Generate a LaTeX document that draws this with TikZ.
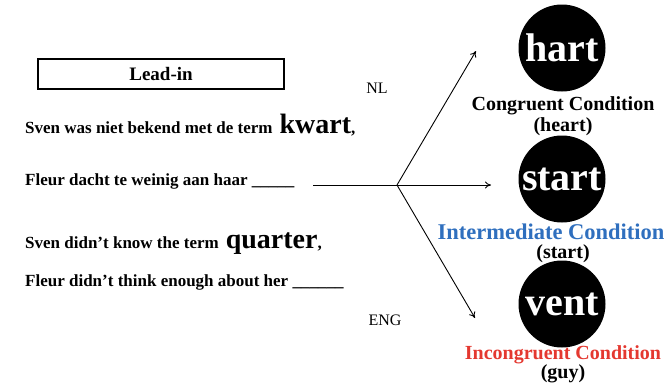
\documentclass[tikz,border=0pt]{standalone}
\usepackage{fontspec}
\setmainfont{Liberation Serif}
\usetikzlibrary{arrows.meta}

\definecolor{condblue}{RGB}{47,111,190}
\definecolor{condred}{RGB}{228,56,48}

\newcommand{\fsz}[1]{\fontsize{#1}{#1}\selectfont}

\begin{document}
\begin{tikzpicture}[x=1pt,y=-1pt,
    sentence/.style={anchor=base west,inner sep=0pt,font=\fsz{17}\bfseries},
    wordball/.style={circle,fill=black,text=white,minimum size=87pt,inner sep=0pt,font=\fsz{40}\bfseries},
    condlabel/.style={inner sep=0pt,font=\fsz{20}\bfseries},
    lang/.style={inner sep=0pt,font=\fsz{16}},
    branch/.style={line width=0.9pt,-{To[length=6pt,width=7pt]}}]

    % Fix the page to the size of the reference
    \useasboundingbox (0,0) rectangle (668,384);

    % Lead-in box
    \node[draw,line width=1.2pt,minimum width=246pt,minimum height=30pt,inner sep=0pt,
          font=\fsz{19}\bfseries] (leadin) at (161,74) {Lead-in};

    % Dutch sentences
    \node[sentence] (nlone) at (25,133) {Sven was niet bekend met de term{\fsz{28} kwart},};
    \node[sentence] (nltwo) at (25,185) {Fleur dacht te weinig aan haar \_\_\_\_\_};

    % English sentences
    \node[sentence] (enone) at (25,248) {Sven didn't know the term{\fsz{28} quarter},};
    \node[sentence] (entwo) at (25,286) {Fleur didn't think enough about her \_\_\_\_\_\_};

    % Language labels
    \node[lang] (nl) at (377,88) {NL};
    \node[lang] (eng) at (385,320) {ENG};

    % Target words
    \node[wordball] (hart) at (562,48) {hart};
    \node[wordball] (start) at (562,179) {start};
    \node[wordball] (vent) at (562,304) {vent};

    % Condition labels
    \node[condlabel] (congr) at (563,106) {Congruent Condition};
    \node[condlabel] (congrw) at (563,127) {(heart)};
    \node[condlabel,text=condblue,font=\fsz{22.5}\bfseries] (inter) at (551,232) {Intermediate Condition};
    \node[condlabel] (interw) at (563,254) {(start)};
    \node[condlabel,text=condred] (incon) at (563,355) {Incongruent Condition};
    \node[condlabel] (inconw) at (563,374) {(guy)};

    % Branching arrows
    \coordinate (stem) at (313,185);
    \coordinate (split) at (397,185);
    \coordinate (uptip) at (476,51);
    \coordinate (midtip) at (491,185);
    \coordinate (downtip) at (475,318);
    \draw[line width=0.9pt] (stem) -- (split);
    \draw[branch] (split) -- (uptip);
    \draw[branch] (split) -- (midtip);
    \draw[branch] (split) -- (downtip);

\end{tikzpicture}
\end{document}
